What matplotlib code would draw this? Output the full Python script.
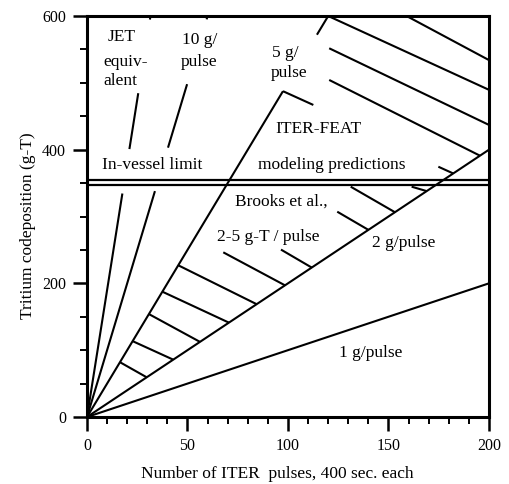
import matplotlib
matplotlib.use("Agg")
import matplotlib.pyplot as plt

plt.rcParams['font.family'] = ['Liberation Serif', 'DejaVu Serif']

# ---- data ----
# rate lines (g-T per pulse) drawn as segments (x_start, x_end) along y = rate * x
rate_1g = [(0, 200)]
rate_2g = [(0, 200)]
rate_5g = [(0, 97.5), (114.4, 120)]
rate_10g = [(0, 33.8), (40.3, 49.8), (59.5, 60)]
rate_jet = [(0, 17.6), (21.1, 25.5), (31.3, 31.6)]
rates = {1: rate_1g, 2: rate_2g, 5: rate_5g, 10: rate_10g, 19: rate_jet}

# in-vessel limit (double line), g-T
limit_lines = [346.5, 354.0]

# hatch segments between 5 g/pulse and 2 g/pulse lines: (x0, y0, x1, y1)
hatch_segments = [
    (16.4, 82.0, 29.7, 59.4),
    (22.7, 113.5, 42.9, 85.8),
    (30.8, 154.0, 56.2, 112.4),
    (37.5, 187.5, 70.6, 141.2),
    (45.4, 227.0, 84.4, 168.8),
    (67.8, 246.4, 98.5, 197.0),
    (96.5, 250.5, 111.8, 223.6),
    (124.5, 307.2, 140.0, 280.0),
    (131.2, 344.6, 153.2, 306.4),
    (161.5, 344.6, 169.0, 338.0),
    (174.8, 374.5, 182.2, 364.4),
    (120.5, 504.3, 195.5, 391.0),
    (120.5, 551.7, 200.0, 437.0),
    (120.0, 600.0, 200.0, 489.5),
    (159.0, 600.0, 200.0, 534.0),
    (97.5, 487.5, 112.6, 466.9),
]

# annotations: (text, x, y) at left/baseline
labels = [
    ("JET", 10.4, 563),
    ("equiv-", 8.0, 525.7),
    ("alent", 8.0, 496.8),
    ("10 g/", 47.3, 557.6),
    ("pulse", 46.8, 525.2),
    ("5 g/", 92.0, 539.0),
    ("pulse", 91.5, 509.0),
    ("ITER-FEAT", 93.5, 424.5),
    ("modeling predictions", 85.0, 371.0),
    ("In-vessel limit", 7.3, 370.6),
    ("Brooks et al.,", 73.6, 316.0),
    ("2-5 g-T / pulse", 64.8, 263.0),
    ("2 g/pulse", 141.6, 253.9),
    ("1 g/pulse", 125.5, 90.3),
]

x_major = [0, 50, 100, 150, 200]
y_major = [0, 200, 400, 600]

# ---- figure ----
fig = plt.figure(figsize=(5.10, 4.84), dpi=100)
ax = fig.add_axes([87/510, 1-417/484, (489-87)/510, (417-16)/484])

lw = 1.5
for r, segs in rates.items():
    for x0, x1 in segs:
        ax.plot([x0, x1], [r*x0, r*x1], color='black', lw=lw, solid_capstyle='butt')

for yl in limit_lines:
    ax.plot([0, 200], [yl, yl], color='black', lw=1.6, solid_capstyle='butt')

for x0, y0, x1, y1 in hatch_segments:
    ax.plot([x0, x1], [y0, y1], color='black', lw=lw, solid_capstyle='butt')

for t, x, y in labels:
    ax.text(x, y, t, ha='left', va='baseline', fontsize=12.5)

ax.set_xlim(0, 200)
ax.set_ylim(0, 600)
ax.set_xticks(x_major)
ax.set_yticks(y_major)
ax.set_xticks(range(0, 201, 10), minor=True)
ax.set_yticks(range(0, 601, 50), minor=True)
ax.tick_params(which='major', direction='out', length=10, width=1.8, labelsize=11.5, pad=5)
ax.tick_params(which='minor', direction='out', length=5, width=1.4)
for s in ax.spines.values():
    s.set_linewidth(2.2)

fig.text(277/510, 1-478.5/484, "Number of ITER  pulses, 400 sec. each",
         ha='center', va='baseline', fontsize=12.5)
fig.text(28/510, 1-226/484, "Tritium codeposition (g-T)",
         ha='center', va='center', rotation=90, fontsize=12.5)

fig.savefig("out.png", dpi=100)
